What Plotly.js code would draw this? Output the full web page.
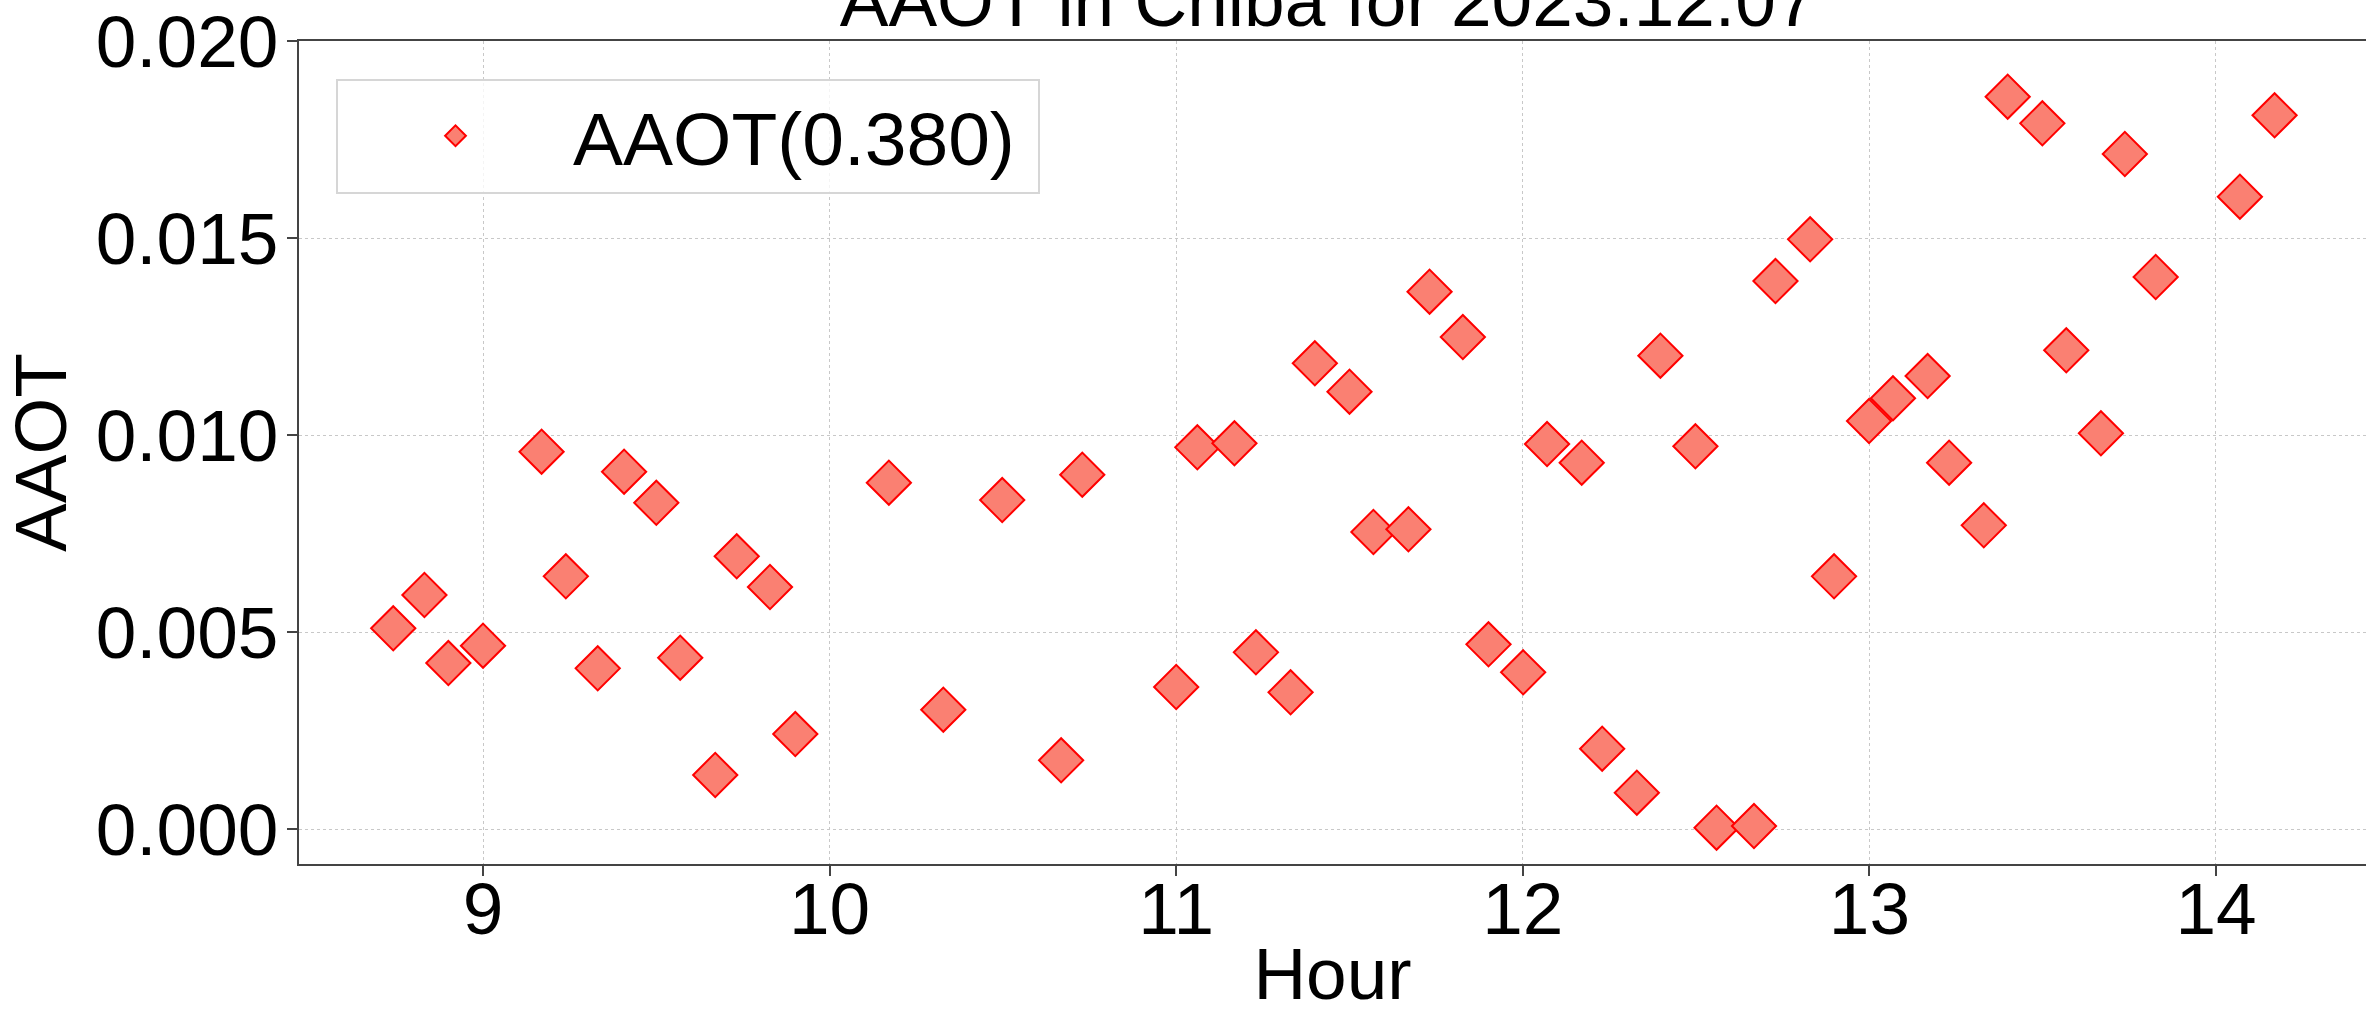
<!DOCTYPE html>
<html>
<head>
<meta charset="utf-8">
<script src="https://cdn.plot.ly/plotly-3.0.1.min.js"></script>
<style>
  html, body { margin: 0; padding: 0; background: #ffffff; overflow: hidden; }
  #chart { width: 2366px; height: 1014px; }
</style>
</head>
<body>
<div id="chart"></div>
<script>
// Hour of day (decimal hours)
const hours = [
  8.741, 8.831, 8.900, 9.000, 9.169, 9.239, 9.331, 9.407, 9.500, 9.569,
  9.670, 9.732, 9.828, 9.901, 10.171, 10.328, 10.498, 10.668, 10.729, 11.000,
  11.061, 11.168, 11.230, 11.330, 11.400, 11.500, 11.569, 11.670, 11.731, 11.827,
  11.901, 12.001, 12.070, 12.170, 12.229, 12.329, 12.397, 12.498, 12.559, 12.667,
  12.729, 12.829, 12.898, 12.999, 13.068, 13.168, 13.230, 13.330, 13.399, 13.499,
  13.568, 13.668, 13.737, 13.826, 14.069, 14.169
];
// AAOT(0.380) values
const aaot = [
  0.005094, 0.005939, 0.004213, 0.004653, 0.009576, 0.006413, 0.004078, 0.009068, 0.008280, 0.004348,
  0.001371, 0.006921, 0.006142, 0.002411, 0.008790, 0.003029, 0.008350, 0.001743, 0.008993, 0.003604,
  0.009687, 0.009789, 0.004484, 0.003469, 0.011820, 0.011099, 0.007538, 0.007606, 0.013637, 0.012487,
  0.004687, 0.003977, 0.009771, 0.009297, 0.002038, 0.000922, 0.012013, 0.009713, 0.000034, 0.000076,
  0.013908, 0.014966, 0.006413, 0.010355, 0.010931, 0.011497, 0.009297, 0.007707, 0.018586, 0.017910,
  0.012149, 0.010043, 0.017132, 0.014010, 0.016048, 0.018114
];
const seriesName = 'AAOT(0.380)';
const chartTitle = 'AAOT in Chiba for 2023.12.07';
const xTitle = 'Hour';
const yTitle = 'AAOT';

const FONT = 'Liberation Sans, Arial, sans-serif';

const trace = {
  x: hours,
  y: aaot,
  type: 'scatter',
  mode: 'markers',
  name: seriesName,
  showlegend: true,
  marker: {
    symbol: 'diamond',
    size: 34,
    color: '#FA8072',
    line: { color: '#FF0000', width: 2 }
  },
  hoverinfo: 'skip'
};

const axisCommon = {
  showline: true,
  linecolor: '#444444',
  linewidth: 2,
  ticks: 'outside',
  ticklen: 10,
  tickwidth: 2,
  tickcolor: '#444444',
  showgrid: true,
  gridcolor: '#c8c8c8',
  gridwidth: 1,
  griddash: 'dot',
  zeroline: false,
  tickfont: { family: FONT, size: 73, color: '#000000' },
  automargin: false
};

const layout = {
  width: 2366,
  height: 1014,
  margin: { l: 299, r: 0, t: 41, b: 150, pad: 0 },
  paper_bgcolor: '#ffffff',
  plot_bgcolor: '#ffffff',
  font: { family: FONT, size: 73, color: '#000000' },
  title: {
    text: chartTitle,
    font: { family: FONT, size: 73, color: '#000000' },
    xref: 'container', x: 0.5613, xanchor: 'center',
    yref: 'container', y: 0.9744, yanchor: 'bottom'
  },
  xaxis: Object.assign({}, axisCommon, {
    range: [8.4691, 14.4328],
    dtick: 1,
    tick0: 0,
    mirror: true,
    ticklabelstandoff: -30,
    title: { text: xTitle, font: { family: FONT, size: 73, color: '#000000' }, standoff: 45 }
  }),
  yaxis: Object.assign({}, axisCommon, {
    range: [-0.000888, 0.0200],
    dtick: 0.005,
    tick0: 0,
    tickformat: '.3f',
    mirror: false,
    ticklabelstandoff: -6,
    title: { text: yTitle, font: { family: FONT, size: 73, color: '#000000' }, standoff: 11 }
  }),
  legend: {
    orientation: 'h',
    x: 0.0179, y: 0.9544,
    xanchor: 'left', yanchor: 'top',
    bgcolor: 'rgba(255,255,255,0.8)',
    bordercolor: '#d6d6d6',
    borderwidth: 2,
    font: { family: FONT, size: 75, color: '#000000' },
    itemwidth: 225,
    entrywidth: 460,
    entrywidthmode: 'pixels'
  },
  hovermode: false
};

Plotly.newPlot('chart', [trace], layout, { displayModeBar: false, staticPlot: true });
</script>
</body>
</html>
